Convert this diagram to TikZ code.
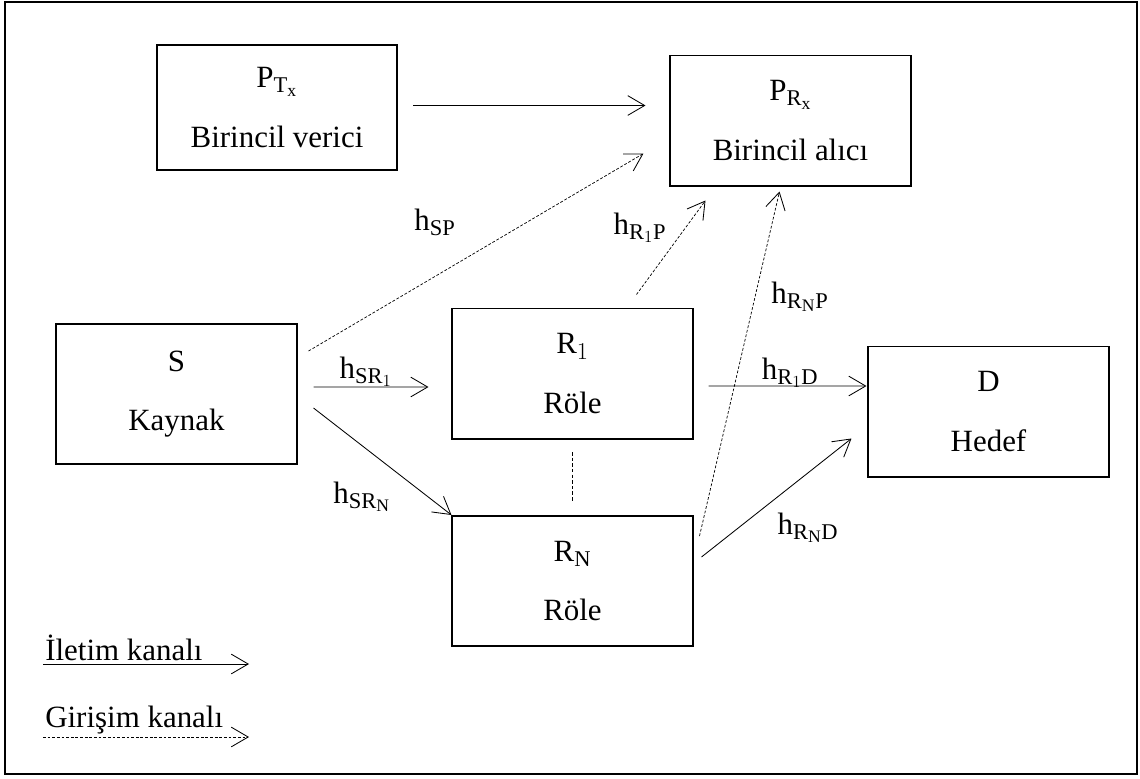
\documentclass[tikz,border=0pt]{standalone}
\usepackage{fontspec}
\setmainfont{Liberation Serif}
\usetikzlibrary{calc,arrows.meta}
\DeclareMathSizes{22}{22}{16}{12.5}
\tikzset{
  tip/.style  = {-{Straight Barb[length=12pt,width=14pt,line width=0.6pt]}},
  box/.style  = {draw, line width=1.4pt, minimum width=6cm, minimum height=3.25cm,
                 align=center, font=\fontsize{22}{42}\selectfont},
  chan/.style = {line width=0.6pt, tip},
  intf/.style = {line width=0.5pt, dash pattern=on 2pt off 1.3pt, tip},
  link/.style = {line width=0.5pt, dash pattern=on 2.5pt off 1.5pt},
  lbl/.style  = {font=\fontsize{22}{26}\selectfont, inner sep=0pt}
}

\begin{document}
\begin{tikzpicture}[x=0.025cm,y=-0.025cm]
\useasboundingbox (0,0) rectangle (1140,778);

% outer frame
\draw[line width=1.3pt] (5,2) rectangle (1137,774);

% boxes
\node[box, minimum height=3.125cm] (PT) at (277,107.5) {P$_{\mathrm{T}_\mathrm{x}}$\\Birincil verici};
\node[box] (PR) at (790.5,120.5) {P$_{\mathrm{R}_\mathrm{x}}$\\Birincil alıcı};
\node[box, minimum height=3.5cm] (S) at (176.5,394) {S\\Kaynak};
\node[box] (R1) at (572.5,373.5) {R$_1$\\Röle};
\node[box] (RN) at (572.5,581) {R$_\mathrm{N}$\\Röle};
\node[box] (D) at (988.5,411.5) {D\\Hedef};

% transmission channels
\draw[chan] ($(PT.east)+(15,-2)$) -- ($(PR.west)+(-24,-15)$);
\draw[chan] ($(S.east)+(16,-7)$) -- ($(R1.west)+(-23,13.5)$);
\draw[chan] ($(S.east)+(16,14)$) -- (RN.north west);
\draw[chan] ($(R1.east)+(15,12.5)$) -- ($(D.west)+(-1,-25.5)$);
\draw[chan] ($(RN.east)+(8,-24)$) -- ($(D.west)+(-16,27)$);

% interference channels
\draw[intf] ($(S.east)+(11,-43)$) -- ($(PR.west)+(-26,33)$);
\draw[intf] ($(R1.north)+(64,-13)$) -- ($(PR.south)+(-85,14)$);
\draw[intf] ($(RN.north east)+(6,21)$) -- ($(PR.south)+(-11,5)$);
\draw[link] ($(R1.south)+(0,12.5)$) -- ($(RN.north)+(0,-14)$);

% channel labels
\node[lbl] (hSP)  at (435,222) {$\mathrm{h}_{\mathrm{SP}}$};
\node[lbl] (hR1P) at (640,228) {$\mathrm{h}_{\mathrm{R}_1\mathrm{P}}$};
\node[lbl] (hRNP) at (800,297) {$\mathrm{h}_{\mathrm{R}_\mathrm{N}\mathrm{P}}$};
\node[lbl] (hSR1) at (366,372) {$\mathrm{h}_{\mathrm{SR}_1}$};
\node[lbl] (hSRN) at (362,497) {$\mathrm{h}_{\mathrm{SR}_\mathrm{N}}$};
\node[lbl] (hR1D) at (790,373) {$\mathrm{h}_{\mathrm{R}_1\mathrm{D}}$};
\node[lbl] (hRND) at (808,528) {$\mathrm{h}_{\mathrm{R}_\mathrm{N}\mathrm{D}}$};

% legend
\node[lbl, anchor=west] (ilt) at (45,648) {İletim kanalı};
\node[lbl, anchor=west] (gir) at (45,720) {Girişim kanalı};
\coordinate (ilt0) at (43,664);
\coordinate (ilt1) at (249,664);
\coordinate (gir0) at (43,737);
\coordinate (gir1) at (249,737);
\draw[chan] (ilt0) -- (ilt1);
\draw[intf] (gir0) -- (gir1);
\end{tikzpicture}
\end{document}
